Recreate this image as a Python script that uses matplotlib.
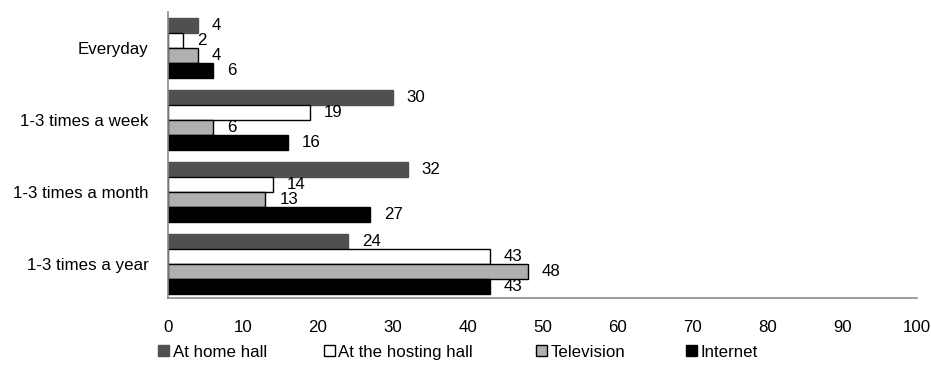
import matplotlib
matplotlib.use('Agg')
from matplotlib import pyplot as plt
from matplotlib.patches import Patch
import numpy as np

plt.rcParams['font.family'] = ['Liberation Sans', 'DejaVu Sans']

categories = ['Everyday', '1-3 times a week', '1-3 times a month', '1-3 times a year']
series_names = ['At home hall', 'At the hosting hall', 'Television', 'Internet']
home_hall = [4, 30, 32, 24]
hosting_hall = [2, 19, 14, 43]
television = [4, 6, 13, 48]
internet = [6, 16, 27, 43]
x_ticks = [0, 10, 20, 30, 40, 50, 60, 70, 80, 90, 100]

fills = ['#505050', 'white', '#b0b0b0', 'black']
edges = ['#505050', 'black', 'black', 'black']
fs = 12.2

fig = plt.figure(figsize=(9.31, 3.65), dpi=100)
ax = fig.add_axes([0.1805, 0.1836, 0.985 - 0.1805, 0.967 - 0.1836])

h = 0.208
y = np.arange(len(categories))
all_series = [home_hall, hosting_hall, television, internet]
for k, vals in enumerate(all_series):
    pos = y - 1.5 * h + k * h
    ax.barh(pos, vals, height=h, color=fills[k], edgecolor=edges[k], linewidth=1.0)
    for p, v in zip(pos, vals):
        ax.annotate(str(v), (v, p), xytext=(10, 0), textcoords='offset points',
                    va='center', ha='left', fontsize=fs)

ax.set_xlim(0, 100)
ax.set_ylim(3.47, -0.5)
ax.set_xticks(x_ticks)
ax.set_yticks(y)
ax.set_yticklabels(categories)
ax.tick_params(axis='both', length=0, labelsize=fs)
ax.tick_params(axis='x', pad=16)
ax.tick_params(axis='y', pad=14)
for s in ['top', 'right']:
    ax.spines[s].set_visible(False)
for s in ['left', 'bottom']:
    ax.spines[s].set_color('#8c8c8c')
    ax.spines[s].set_linewidth(1.2)

# legend entries placed one by one, like the original layout
leg_x = [0.170, 0.348, 0.576, 0.737]
for k in range(4):
    hnd = Patch(facecolor=fills[k], edgecolor=edges[k], label=series_names[k])
    fig.legend(handles=[hnd], loc='center left', bbox_to_anchor=(leg_x[k], 0.035), frameon=False,
               fontsize=fs, handlelength=0.65, handleheight=0.65, handletextpad=0.2,
               borderpad=0, borderaxespad=0)

fig.savefig('out.png', dpi=100)
